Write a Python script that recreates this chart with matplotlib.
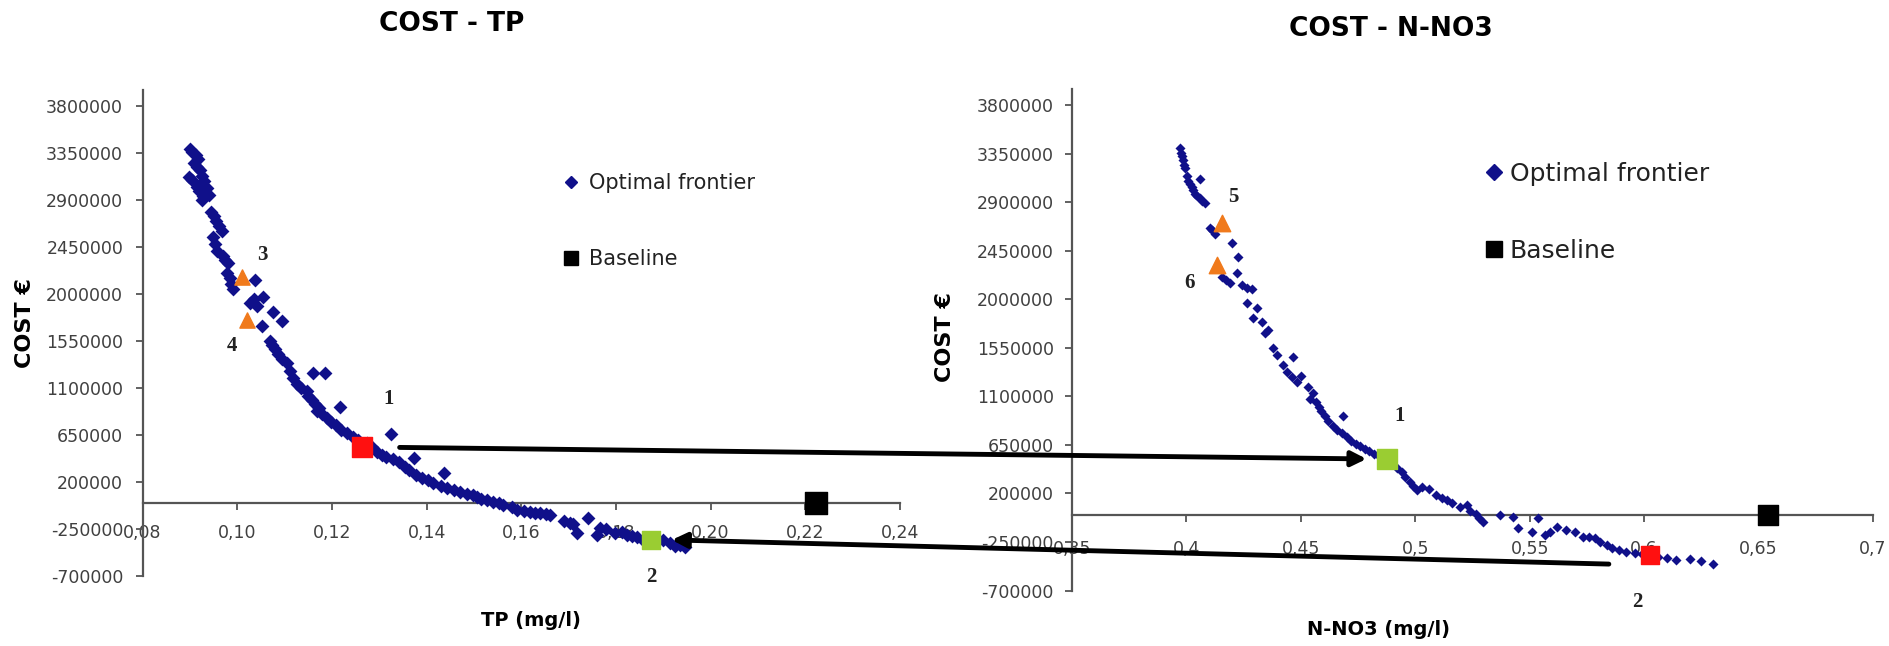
import matplotlib
matplotlib.use('Agg')
import matplotlib.pyplot as plt
from matplotlib.lines import Line2D
from matplotlib.patches import ConnectionPatch

# optimal frontier, TP (mg/l) vs cost (EUR)
tp_x = [0.0900, 0.0905, 0.0912, 0.0918, 0.0908, 0.0915, 0.0922, 0.0898, 0.0905, 0.0925,
        0.0930, 0.0915, 0.0920, 0.0935, 0.0928, 0.0940, 0.0925, 0.0945, 0.0950, 0.0955,
        0.0962, 0.0968, 0.0948, 0.0952, 0.0958, 0.0970, 0.0975, 0.0980, 0.0978, 0.0984,
        0.0987, 0.0990, 0.1037, 0.1027, 0.1041, 0.1054, 0.1076, 0.1095, 0.1052, 0.1035,
        0.1069, 0.1074, 0.1080, 0.1086, 0.1095, 0.1105, 0.1112, 0.1118, 0.1126, 0.1135,
        0.1147, 0.1160, 0.1185, 0.1150, 0.1158, 0.1165, 0.1172, 0.1168, 0.1180, 0.1190,
        0.1198, 0.1217, 0.1208, 0.1220, 0.1232, 0.1245, 0.1255, 0.1275, 0.1285, 0.1295,
        0.1305, 0.1315, 0.1325, 0.1330, 0.1342, 0.1355, 0.1362, 0.1373, 0.1378, 0.1390,
        0.1402, 0.1414, 0.1437, 0.1430, 0.1443, 0.1458, 0.1471, 0.1485, 0.1498, 0.1506,
        0.1515, 0.1527, 0.1540, 0.1554, 0.1562, 0.1580, 0.1590, 0.1605, 0.1618, 0.1630,
        0.1640, 0.1652, 0.1660, 0.1690, 0.1703, 0.1710, 0.1718, 0.1741, 0.1760, 0.1766,
        0.1780, 0.1798, 0.1812, 0.1823, 0.1835, 0.1844, 0.1860, 0.1899, 0.1914, 0.1935,
        0.1945, 0.1925]
tp_cost = [3390000, 3360000, 3330000, 3290000, 3250000, 3210000, 3180000, 3120000, 3090000, 3130000,
           3080000, 3020000, 2980000, 3010000, 2940000, 2950000, 2900000, 2780000, 2740000, 2700000,
           2650000, 2600000, 2540000, 2480000, 2410000, 2360000, 2320000, 2290000, 2200000, 2150000,
           2090000, 2050000, 2130000, 1910000, 1880000, 1970000, 1830000, 1735000, 1690000, 1950000,
           1545000, 1510000, 1470000, 1420000, 1380000, 1335000, 1260000, 1195000, 1140000, 1100000,
           1070000, 1240000, 1240000, 1020000, 980000, 950000, 910000, 880000, 850000, 810000,
           770000, 920000, 740000, 700000, 670000, 630000, 600000, 570000, 530000, 490000,
           460000, 440000, 655000, 420000, 390000, 340000, 310000, 425000, 270000, 240000,
           215000, 190000, 285000, 160000, 140000, 120000, 105000, 85000, 70000, 60000,
           40000, 25000, 10000, 0, -20000, -40000, -65000, -80000, -90000, -95000,
           -100000, -110000, -118000, -175000, -190000, -200000, -285000, -145000, -305000, -240000,
           -255000, -285000, -280000, -305000, -320000, -330000, -370000, -355000, -380000, -400000,
           -420000, -410000]

# optimal frontier, N-NO3 (mg/l) vs cost (EUR)
no3_x = [0.3972, 0.3978, 0.3981, 0.3985, 0.3990, 0.3994, 0.4059, 0.4002, 0.4007, 0.4015,
         0.4024, 0.4030, 0.4038, 0.4048, 0.4059, 0.4070, 0.4081, 0.4103, 0.4112, 0.4125,
         0.4199, 0.4226, 0.4221, 0.4156, 0.4175, 0.4191, 0.4243, 0.4265, 0.4287, 0.4265,
         0.4308, 0.4291, 0.4330, 0.4357, 0.4344, 0.4379, 0.4396, 0.4466, 0.4422, 0.4440,
         0.4483, 0.4531, 0.4553, 0.4500, 0.4460, 0.4540, 0.4565, 0.4578, 0.4590, 0.4605,
         0.4685, 0.4620, 0.4640, 0.4660, 0.4680, 0.4700, 0.4720, 0.4740, 0.4760, 0.4780,
         0.4800, 0.4820, 0.4840, 0.4900, 0.4920, 0.4940, 0.4955, 0.4975, 0.4990, 0.5008,
         0.5030, 0.5060, 0.5090, 0.5115, 0.5139, 0.5160, 0.5196, 0.5226, 0.5240, 0.5265,
         0.5280, 0.5296, 0.5370, 0.5428, 0.5450, 0.5510, 0.5537, 0.5568, 0.5590, 0.5620,
         0.5660, 0.5699, 0.5734, 0.5760, 0.5786, 0.5808, 0.5838, 0.5860, 0.5890, 0.5920,
         0.5960, 0.5990, 0.6060, 0.6100, 0.6140, 0.6200, 0.6250, 0.6300]
no3_cost = [3400000, 3360000, 3330000, 3290000, 3250000, 3215000, 3120000, 3140000, 3100000, 3070000,
            3040000, 3010000, 2980000, 2955000, 2935000, 2910000, 2890000, 2660000, 2640000, 2610000,
            2520000, 2390000, 2240000, 2205000, 2175000, 2150000, 2130000, 2105000, 2100000, 1970000,
            1920000, 1825000, 1790000, 1715000, 1685000, 1545000, 1480000, 1465000, 1390000, 1325000,
            1230000, 1185000, 1130000, 1290000, 1280000, 1080000, 1050000, 1000000, 960000, 920000,
            915000, 870000, 830000, 790000, 760000, 720000, 690000, 660000, 640000, 610000,
            590000, 570000, 550000, 480000, 440000, 400000, 350000, 310000, 270000, 230000,
            260000, 240000, 190000, 160000, 140000, 110000, 75000, 95000, 40000, 10000,
            -30000, -65000, 0, -18000, -120000, -157000, -28000, -185000, -157000, -110000,
            -140000, -157000, -205000, -200000, -215000, -250000, -280000, -305000, -320000, -340000,
            -350000, -360000, -390000, -400000, -420000, -410000, -430000, -455000]

# baseline
tp_base_x, tp_base_cost = 0.2223, 0
no3_base_x, no3_base_cost = 0.654, 0

# selected solutions 1 and 2
tp_sol_x = [0.1263, 0.1874]
tp_sol_cost = [530000, -355000]
no3_sol_x = [0.4877, 0.6026]
no3_sol_cost = [520000, -370000]

# solutions 3,4 (TP) and 5,6 (N-NO3)
tp_tri_x = [0.1010, 0.1020]
tp_tri_cost = [2160000, 1752000]
no3_tri_x = [0.4156, 0.4134]
no3_tri_cost = [2704000, 2315000]

cost_ticks = [-700000, -250000, 200000, 650000, 1100000, 1550000, 2000000,
              2450000, 2900000, 3350000, 3800000]
tp_ticks = [0.08, 0.10, 0.12, 0.14, 0.16, 0.18, 0.20, 0.22, 0.24]
tp_labels = ['0,08', '0,10', '0,12', '0,14', '0,16', '0,18', '0,20', '0,22', '0,24']
no3_ticks = [0.35, 0.40, 0.45, 0.50, 0.55, 0.60, 0.65, 0.70]
no3_labels = ['0,35', '0,4', '0,45', '0,5', '0,55', '0,6', '0,65', '0,7']

navy = '#10108a'
orange = '#f07a1c'
red = '#ff1010'
green = '#9acd32'
axcol = '#555555'

plt.rcParams['font.family'] = ['DejaVu Sans']

fig = plt.figure(figsize=(18.89, 6.46), dpi=100)
ax1 = fig.add_axes([0.0755, 0.1084, 0.4009, 0.7523])
ax2 = fig.add_axes([0.5675, 0.0859, 0.4240, 0.7763])


def style(ax, xticks, xlabels, xlim, ypad, xpad):
    ax.set_xlim(*xlim)
    ax.set_ylim(-700000, 3950000)
    for s in ['top', 'right']:
        ax.spines[s].set_visible(False)
    ax.spines['bottom'].set_position(('data', 0))
    for s in ['bottom', 'left']:
        ax.spines[s].set_color(axcol)
        ax.spines[s].set_linewidth(1.6)
    ax.set_yticks(cost_ticks)
    ax.set_yticklabels([str(v) for v in cost_ticks])
    ax.set_xticks(xticks)
    ax.set_xticklabels(xlabels)
    ax.tick_params(axis='both', direction='out', length=5, width=1.3, color=axcol,
                   labelsize=12.5, labelcolor='#404040')
    ax.tick_params(axis='y', pad=ypad)
    ax.tick_params(axis='x', pad=xpad)


style(ax1, tp_ticks, tp_labels, (0.08, 0.24), 9, 10)
style(ax2, no3_ticks, no3_labels, (0.35, 0.70), 8, 13)

# left chart
ax1.scatter(tp_x, tp_cost, marker='D', s=50, color=navy, zorder=3, clip_on=False, linewidths=0)
ax1.scatter([tp_base_x], [tp_base_cost], marker='s', s=230, color='black', zorder=4, clip_on=False)
ax1.scatter(tp_tri_x, tp_tri_cost, marker='^', s=120, color=orange, zorder=4)
ax1.scatter(tp_sol_x[0], tp_sol_cost[0], marker='s', s=200, color=red, zorder=4)
ax1.scatter(tp_sol_x[1], tp_sol_cost[1], marker='s', s=170, color=green, zorder=4)

# right chart
ax2.scatter(no3_x, no3_cost, marker='D', s=26, color=navy, zorder=3, clip_on=False, linewidths=0)
ax2.scatter([no3_base_x], [no3_base_cost], marker='s', s=200, color='black', zorder=4, clip_on=False)
ax2.scatter(no3_tri_x, no3_tri_cost, marker='^', s=140, color=orange, zorder=4)
ax2.scatter(no3_sol_x[0], no3_sol_cost[0], marker='s', s=200, color=green, zorder=4)
ax2.scatter(no3_sol_x[1], no3_sol_cost[1], marker='s', s=170, color=red, zorder=4)

lab = dict(textcoords='offset points', ha='center', va='center', fontsize=15,
           fontweight='bold', family='Liberation Serif', color='#222222')
ax1.annotate('1', (tp_sol_x[0], tp_sol_cost[0]), xytext=(19, 35), **lab)
ax1.annotate('2', (tp_sol_x[1], tp_sol_cost[1]), xytext=(0, -27), **lab)
ax1.annotate('3', (tp_tri_x[0], tp_tri_cost[0]), xytext=(15, 16), **lab)
ax1.annotate('4', (tp_tri_x[1], tp_tri_cost[1]), xytext=(-11, -19), **lab)
ax2.annotate('1', (no3_sol_x[0], no3_sol_cost[0]), xytext=(9, 31), **lab)
ax2.annotate('2', (no3_sol_x[1], no3_sol_cost[1]), xytext=(-9, -34), **lab)
ax2.annotate('5', (no3_tri_x[0], no3_tri_cost[0]), xytext=(8, 19), **lab)
ax2.annotate('6', (no3_tri_x[1], no3_tri_cost[1]), xytext=(-20, -13), **lab)

# arrows linking the same solutions in both charts
arr = dict(arrowstyle='-|>', lw=3.5, color='black', mutation_scale=22, zorder=6)
con1 = ConnectionPatch(xyA=(tp_sol_x[0] + 0.008, tp_sol_cost[0]), coordsA=ax1.transData,
                       xyB=(no3_sol_x[0] - 0.009, no3_sol_cost[0]), coordsB=ax2.transData, **arr)
con2 = ConnectionPatch(xyA=(no3_sol_x[1] - 0.018, no3_sol_cost[1] - 85000), coordsA=ax2.transData,
                       xyB=(tp_sol_x[1] + 0.0044, tp_sol_cost[1]), coordsB=ax1.transData, **arr)
fig.add_artist(con1)
fig.add_artist(con2)

# legends
h1 = [Line2D([], [], ls='none', marker='D', color=navy, markersize=6),
      Line2D([], [], ls='none', marker='s', color='black', markersize=10)]
ax1.legend(h1, ['Optimal frontier', 'Baseline'], loc='upper left', bbox_to_anchor=(0.552, 0.829),
           frameon=False, fontsize=15, borderpad=0, borderaxespad=0, handlelength=1.0,
           handletextpad=0.35, labelspacing=2.68, labelcolor='#222222')
h2 = [Line2D([], [], ls='none', marker='D', color=navy, markersize=8),
      Line2D([], [], ls='none', marker='s', color='black', markersize=12)]
ax2.legend(h2, ['Optimal frontier', 'Baseline'], loc='upper left', bbox_to_anchor=(0.514, 0.854),
           frameon=False, fontsize=18, borderpad=0, borderaxespad=0, handlelength=0.8,
           handletextpad=0.25, labelspacing=2.1, labelcolor='#222222')

# titles and axis labels
fig.text(0.2393, 0.963, 'COST - TP', ha='center', va='center', fontsize=19, fontweight='bold')
fig.text(0.7364, 0.955, 'COST - N-NO3', ha='center', va='center', fontsize=19, fontweight='bold')
fig.text(0.2810, 0.039, 'TP (mg/l)', ha='center', va='center', fontsize=14, fontweight='bold')
fig.text(0.7300, 0.026, 'N-NO3 (mg/l)', ha='center', va='center', fontsize=14, fontweight='bold')
fig.text(0.0132, 0.500, 'COST €', ha='center', va='center', rotation=90, fontsize=16, fontweight='bold')
fig.text(0.5003, 0.478, 'COST €', ha='center', va='center', rotation=90, fontsize=16, fontweight='bold')

fig.savefig('out.png', dpi=100, facecolor='white')
